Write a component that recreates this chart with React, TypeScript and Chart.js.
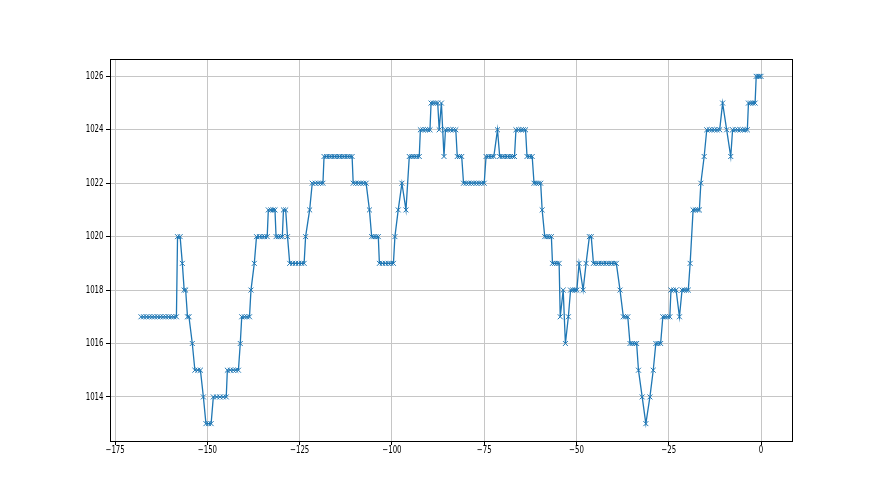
import React, { useEffect, useRef } from "react";
import { Chart, registerables } from "chart.js";

Chart.register(...registerables);

// Hours relative to now (x) and pressure in hPa (y)
const hours = [
  -168, -167.3, -166.5, -165.8, -165, -164.3, -163.5, -162.8, -162, -161.3, -160.5, -159.8, -159.1, -158.4,
  -158.1, -157.4,
  -156.8,
  -156.3, -155.9,
  -155.4, -155.0,
  -154.1,
  -153.4, -152.6, -151.9,
  -151.1,
  -150.4, -149.7, -149.0,
  -148.4, -147.5, -146.6, -145.7, -144.9,
  -144.6, -143.8, -143.0, -142.3, -141.6,
  -141.1,
  -140.7, -140.0, -139.3, -138.6,
  -138.2,
  -137.3,
  -136.7, -135.9, -135.2, -134.5, -133.8,
  -133.5, -132.8, -132.2, -131.7,
  -131.4, -130.8, -130.2, -129.7,
  -129.4, -128.8,
  -128.3,
  -127.7, -126.9, -126.1, -125.3, -124.5, -123.8,
  -123.4,
  -122.3,
  -121.6, -120.8, -120.0, -119.3, -118.7,
  -118.4, -117.7, -117.0, -116.3, -115.6, -114.9, -114.2, -113.5, -112.8, -112.1, -111.4, -110.8,
  -110.5, -109.8, -109.1, -108.4, -107.7, -107.0,
  -106.1,
  -105.5, -104.9, -104.3, -103.7,
  -103.4, -102.6, -101.8, -101.0, -100.3, -99.6,
  -99.2,
  -98.3,
  -97.3,
  -96.2,
  -95.3, -94.6, -94.0, -93.3, -92.6,
  -92.3, -91.6, -90.9, -90.3, -89.7,
  -89.4, -88.8, -88.2, -87.6,
  -87.2,
  -86.6,
  -85.9,
  -85.5, -84.8, -84.1, -83.4, -82.7,
  -82.3, -81.7, -81.1,
  -80.6, -79.9, -79.2, -78.5, -77.8, -77.1, -76.4, -75.7, -75.0,
  -74.5, -73.8, -73.1, -72.4,
  -71.4,
  -70.8, -70.1, -69.4, -68.7, -68.0, -67.3, -66.8,
  -66.4, -65.7, -65.0, -64.4, -63.8,
  -63.4, -62.7, -62.0,
  -61.5, -60.9, -60.3, -59.7,
  -59.3,
  -58.6, -58.0, -57.4, -56.8,
  -56.5, -55.9, -55.3, -54.7,
  -54.4,
  -53.6,
  -53.0,
  -52.2,
  -51.6, -51.0, -50.4, -49.9,
  -49.3,
  -48.2,
  -47.4,
  -46.5, -46.0,
  -45.4, -44.7, -44.0, -43.3, -42.6, -41.9, -41.2, -40.5, -39.8, -39.2,
  -38.2,
  -37.3, -36.7, -36.1,
  -35.5, -34.9, -34.2, -33.7,
  -33.2,
  -32.2,
  -31.2,
  -30.1,
  -29.2,
  -28.5, -27.9, -27.2,
  -26.6, -26.0, -25.3, -24.7,
  -24.4, -23.7, -23.0,
  -22.1,
  -21.4, -20.8, -20.2, -19.7,
  -19.2,
  -18.4, -17.8, -17.2, -16.7,
  -16.3,
  -15.4,
  -14.7, -14.0, -13.3, -12.6, -11.9, -11.2,
  -10.4,
  -9.3,
  -8.2,
  -7.7, -7.0, -6.3, -5.6, -4.9, -4.3, -3.7,
  -3.4, -2.8, -2.2, -1.6,
  -1.3, -0.8, -0.4, 0,
];

const pressure = [
  1017, 1017, 1017, 1017, 1017, 1017, 1017, 1017, 1017, 1017, 1017, 1017, 1017, 1017,
  1020, 1020,
  1019,
  1018, 1018,
  1017, 1017,
  1016,
  1015, 1015, 1015,
  1014,
  1013, 1013, 1013,
  1014, 1014, 1014, 1014, 1014,
  1015, 1015, 1015, 1015, 1015,
  1016,
  1017, 1017, 1017, 1017,
  1018,
  1019,
  1020, 1020, 1020, 1020, 1020,
  1021, 1021, 1021, 1021,
  1020, 1020, 1020, 1020,
  1021, 1021,
  1020,
  1019, 1019, 1019, 1019, 1019, 1019,
  1020,
  1021,
  1022, 1022, 1022, 1022, 1022,
  1023, 1023, 1023, 1023, 1023, 1023, 1023, 1023, 1023, 1023, 1023, 1023,
  1022, 1022, 1022, 1022, 1022, 1022,
  1021,
  1020, 1020, 1020, 1020,
  1019, 1019, 1019, 1019, 1019, 1019,
  1020,
  1021,
  1022,
  1021,
  1023, 1023, 1023, 1023, 1023,
  1024, 1024, 1024, 1024, 1024,
  1025, 1025, 1025, 1025,
  1024,
  1025,
  1023,
  1024, 1024, 1024, 1024, 1024,
  1023, 1023, 1023,
  1022, 1022, 1022, 1022, 1022, 1022, 1022, 1022, 1022,
  1023, 1023, 1023, 1023,
  1024,
  1023, 1023, 1023, 1023, 1023, 1023, 1023,
  1024, 1024, 1024, 1024, 1024,
  1023, 1023, 1023,
  1022, 1022, 1022, 1022,
  1021,
  1020, 1020, 1020, 1020,
  1019, 1019, 1019, 1019,
  1017,
  1018,
  1016,
  1017,
  1018, 1018, 1018, 1018,
  1019,
  1018,
  1019,
  1020, 1020,
  1019, 1019, 1019, 1019, 1019, 1019, 1019, 1019, 1019, 1019,
  1018,
  1017, 1017, 1017,
  1016, 1016, 1016, 1016,
  1015,
  1014,
  1013,
  1014,
  1015,
  1016, 1016, 1016,
  1017, 1017, 1017, 1017,
  1018, 1018, 1018,
  1017,
  1018, 1018, 1018, 1018,
  1019,
  1021, 1021, 1021, 1021,
  1022,
  1023,
  1024, 1024, 1024, 1024, 1024, 1024,
  1025,
  1024,
  1023,
  1024, 1024, 1024, 1024, 1024, 1024, 1024,
  1025, 1025, 1025, 1025,
  1026, 1026, 1026, 1026,
];

const xTicks = [-175, -150, -125, -100, -75, -50, -25, 0];
const yTicks = [1014, 1016, 1018, 1020, 1022, 1024, 1026];

const fmt = (v: number) => (v < 0 ? "\u2212" + Math.abs(v) : String(v));

const TEXT_SQUEEZE = 0.7;

const framePlugin = {
  id: "frame",
  afterDraw(chart: any) {
    const { ctx, chartArea } = chart;
    ctx.save();
    ctx.strokeStyle = "#000";
    ctx.lineWidth = 1;
    ctx.strokeRect(
      Math.round(chartArea.left) + 0.5,
      Math.round(chartArea.top) + 0.5,
      Math.round(chartArea.right - chartArea.left),
      Math.round(chartArea.bottom - chartArea.top)
    );
    // tick labels, drawn horizontally condensed like the reference
    ctx.fillStyle = "#000";
    ctx.font = "10px 'DejaVu Sans'";
    ctx.textBaseline = "middle";
    const xs = chart.scales.x;
    const ys = chart.scales.y;
    ctx.textAlign = "center";
    xTicks.forEach((v) => {
      const px = xs.getPixelForValue(v);
      ctx.save();
      ctx.translate(px, chartArea.bottom + 9.5);
      ctx.scale(TEXT_SQUEEZE, 1);
      ctx.fillText(fmt(v), 0, 0);
      ctx.restore();
    });
    ctx.textAlign = "right";
    yTicks.forEach((v) => {
      const py = ys.getPixelForValue(v);
      ctx.save();
      ctx.translate(chartArea.left - 6.5, py);
      ctx.scale(TEXT_SQUEEZE, 1);
      ctx.fillText(fmt(v), 0, 0);
      ctx.restore();
    });
    ctx.restore();
  },
};

export default function App() {
  const ref = useRef<HTMLCanvasElement | null>(null);
  useEffect(() => {
    if (!ref.current) return;
    const data = hours.map((h, i) => ({ x: h, y: pressure[i] }));
    const chart = new Chart(ref.current, {
      type: "line",
      data: {
        datasets: [
          {
            data,
            borderColor: "#1f77b4",
            borderWidth: 1.3,
            pointStyle: "crossRot",
            pointRadius: 3.5,
            pointBorderColor: "#1f77b4",
            pointBorderWidth: 1,
            pointBackgroundColor: "#1f77b4",
            tension: 0,
            fill: false,
          },
        ],
      },
      options: {
        responsive: false,
        animation: false,
        devicePixelRatio: 1,
        layout: { padding: { left: 0, top: 59, right: 88, bottom: 0 } },
        plugins: { legend: { display: false }, tooltip: { enabled: false } },
        scales: {
          x: {
            type: "linear",
            min: -176.4,
            max: 8.4,
            afterBuildTicks: (s: any) => {
              s.ticks = xTicks.map((v) => ({ value: v }));
            },
            afterFit: (s: any) => {
              s.height = 54;
            },
            border: { display: false },
            grid: { color: "#c6c6c6", lineWidth: 1, tickColor: "#000", tickLength: 4, drawTicks: true },
            ticks: { display: false, autoSkip: false },
          },
          y: {
            type: "linear",
            min: 1012.35,
            max: 1026.65,
            afterBuildTicks: (s: any) => {
              s.ticks = yTicks.map((v) => ({ value: v }));
            },
            afterFit: (s: any) => {
              s.width = 110;
            },
            border: { display: false },
            grid: { color: "#c6c6c6", lineWidth: 1, tickColor: "#000", tickLength: 4, drawTicks: true },
            ticks: { display: false, autoSkip: false },
          },
        },
      },
      plugins: [framePlugin],
    });
    return () => chart.destroy();
  }, []);
  return (
    <div style={{ position: "absolute", left: 0, top: 0, width: 880, height: 495, background: "#fff" }}>
      <canvas ref={ref} width={880} height={495} style={{ width: 880, height: 495 }} />
    </div>
  );
}
